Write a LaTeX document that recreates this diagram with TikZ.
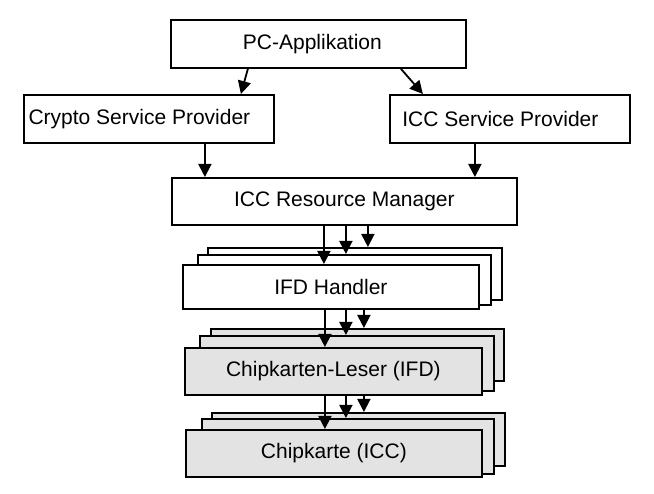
\documentclass[tikz,border=0pt]{standalone}
\usepackage{fontspec}
\setmainfont{Liberation Sans}
\usetikzlibrary{arrows.meta}

\tikzset{
  box/.style={draw, line width=1.8pt, fill=white, anchor=north west, inner sep=0pt,
    font=\fontsize{21}{25}\selectfont},
  greybox/.style={box, fill=gray!22},
  links/.style={execute at end node={\hspace*{#1}}},
  arr/.style={line width=1.8pt, -{Triangle[length=13pt, width=13pt]}}
}

\begin{document}
\begin{tikzpicture}[x=1pt, y=-1pt]
    \useasboundingbox (0,0) rectangle (654,494);

    % 1. obere Ebene
    \node[box, links=12pt, minimum width=295pt, minimum height=48pt] (pc) at (170,19) {PC-Applikation};
    \node[box, links=19pt, minimum width=250pt, minimum height=48pt] (csp) at (23,94) {Crypto Service Provider};
    \node[box, links=19pt, minimum width=240pt, minimum height=48pt] (isp) at (389,94) {ICC Service Provider};
    \node[box, minimum width=345pt, minimum height=47pt] (rm) at (171,177) {ICC Resource Manager};

    % 2. Stapel: IFD Handler (weiss)
    \node[box, minimum width=294pt, minimum height=52pt] (ifdC) at (207,247) {};
    \node[box, minimum width=293pt, minimum height=50pt] (ifdB) at (197,254) {};
    \node[box, minimum width=296pt, minimum height=44pt] (ifd) at (182,264) {IFD Handler};

    % 3. Stapel: Chipkarten-Leser (grau)
    \node[greybox, minimum width=293pt, minimum height=52pt] (clC) at (210,328) {};
    \node[greybox, minimum width=294pt, minimum height=55pt] (clB) at (199,335) {};
    \node[greybox, minimum width=297pt, minimum height=47pt] (cl) at (184,347) {Chipkarten-Leser (IFD)};

    % 4. Stapel: Chipkarte (grau)
    \node[greybox, minimum width=293pt, minimum height=53pt] (icC) at (211,412) {};
    \node[greybox, minimum width=292pt, minimum height=55pt] (icB) at (201,418) {};
    \node[greybox, minimum width=296pt, minimum height=47pt] (ic) at (185,429) {Chipkarte (ICC)};

    % 5. Pfeile
    \draw[arr] ([xshift=-70.5pt]pc.south) -- ([xshift=92pt]csp.north);
    \draw[arr] ([xshift=82.5pt]pc.south) -- ([xshift=-87pt]isp.north);
    \draw[arr] ([xshift=56pt]csp.south) -- ([xshift=56pt]csp.south |- rm.north);
    \draw[arr] ([xshift=-35pt]isp.south) -- ([xshift=-35pt]isp.south |- rm.north);

    \foreach \dx/\ziel in {-20.5/ifd, 1.5/ifdB, 23.5/ifdC}
        \draw[arr] ([xshift=\dx pt]rm.south) -- ([xshift=\dx pt]rm.south |- \ziel.north);
    \foreach \dx/\ziel in {-6/cl, 15/clB, 33/clC}
        \draw[arr] ([xshift=\dx pt]ifd.south) -- ([xshift=\dx pt]ifd.south |- \ziel.north);
    \foreach \dx/\ziel in {-8.5/ic, 12.5/icB, 30.5/icC}
        \draw[arr] ([xshift=\dx pt]cl.south) -- ([xshift=\dx pt]cl.south |- \ziel.north);
\end{tikzpicture}
\end{document}
